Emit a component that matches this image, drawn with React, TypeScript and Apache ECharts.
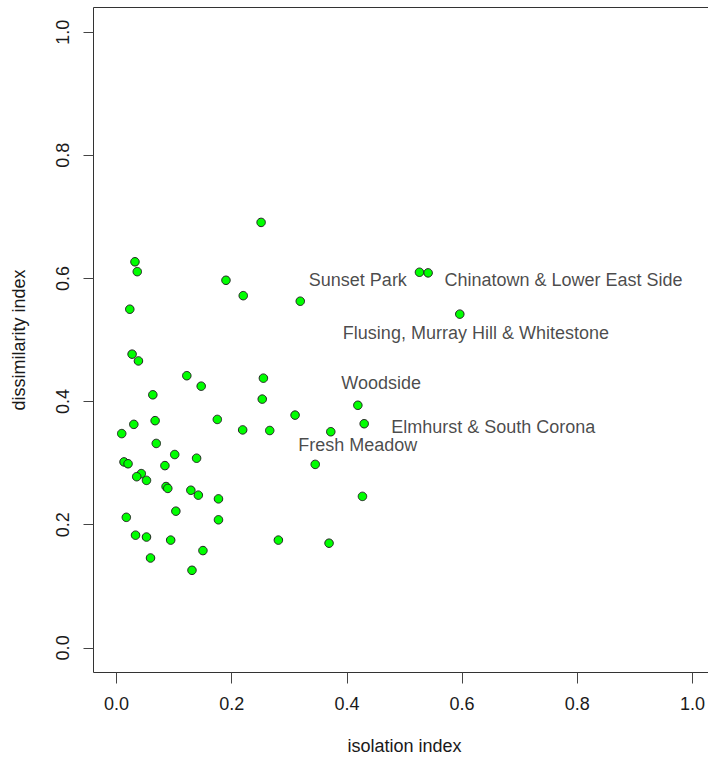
import React, { useEffect, useRef } from "react";
import * as echarts from "echarts";

// isolation index (x) and dissimilarity index (y) per neighbourhood
const isolation = [
  0.251, 0.032, 0.036, 0.19, 0.22, 0.319, 0.023, 0.027, 0.038, 0.122,
  0.147, 0.255, 0.063, 0.253, 0.31, 0.067, 0.03, 0.175, 0.009, 0.219,
  0.266, 0.069, 0.101, 0.139, 0.013, 0.02, 0.084, 0.043, 0.035, 0.052,
  0.086, 0.089, 0.129, 0.142, 0.177, 0.103, 0.017, 0.177, 0.033, 0.052,
  0.094, 0.281, 0.15, 0.059, 0.131, 0.369, 0.427, 0.345, 0.372, 0.43,
  0.419, 0.526, 0.541, 0.596,
];
const dissimilarity = [
  0.691, 0.627, 0.611, 0.597, 0.572, 0.563, 0.55, 0.477, 0.466, 0.442,
  0.425, 0.438, 0.411, 0.404, 0.378, 0.369, 0.363, 0.371, 0.348, 0.354,
  0.353, 0.332, 0.314, 0.308, 0.302, 0.299, 0.296, 0.283, 0.278, 0.272,
  0.262, 0.259, 0.256, 0.248, 0.242, 0.222, 0.212, 0.208, 0.183, 0.18,
  0.175, 0.175, 0.158, 0.146, 0.126, 0.17, 0.246, 0.298, 0.351, 0.364,
  0.394, 0.61, 0.609, 0.542,
];

// annotation texts and the data coordinates of their centres
const labelNames = [
  "Sunset Park",
  "Chinatown & Lower East Side",
  "Flusing, Murray Hill & Whitestone",
  "Woodside",
  "Elmhurst & South Corona",
  "Fresh Meadow",
];
const labelX = [0.419, 0.776, 0.624, 0.4595, 0.654, 0.419];
const labelY = [0.598, 0.598, 0.511, 0.43, 0.359, 0.3295];

// tick values (both axes) and axis ranges (R's 4% extension)
const xTicks = [0, 0.2, 0.4, 0.6, 0.8, 1.0];
const yTicks = [0, 0.2, 0.4, 0.6, 0.8, 1.0];
const xRange = [-0.04, 1.04];
const yRange = [-0.04, 1.04];

export default function App() {
  const ref = useRef<HTMLDivElement>(null);

  useEffect(() => {
    const chart = echarts.init(ref.current!, null, { renderer: "svg" });
    const font = "'Liberation Sans', Arial, Helvetica, sans-serif";
    const txt = "#1a1a1a";

    chart.setOption({
      animation: false,
      textStyle: { fontFamily: font },
      grid: {
        left: 93.5,
        top: 7.5,
        width: 622,
        height: 665,
        containLabel: false,
        outerBoundsMode: "none",
        show: true,
        borderColor: "#333",
        borderWidth: 1,
        backgroundColor: "transparent",
      },
      xAxis: {
        type: "value",
        min: xRange[0],
        max: xRange[1],
        axisLine: { show: false, onZero: false },
        splitLine: { show: false },
        axisTick: {
          show: true,
          inside: false,
          length: 11,
          customValues: xTicks,
          lineStyle: { color: "#444", width: 1 },
        },
        axisLabel: {
          margin: 22,
          fontSize: 18,
          color: txt,
          fontFamily: font,
          customValues: xTicks,
          formatter: (v: number) => v.toFixed(1),
        },
        name: "isolation index",
        nameLocation: "middle",
        nameGap: 64,
        nameTextStyle: { fontSize: 18, color: txt, fontFamily: font },
      },
      yAxis: {
        type: "value",
        min: yRange[0],
        max: yRange[1],
        axisLine: { show: false, onZero: false },
        splitLine: { show: false },
        axisTick: {
          show: true,
          inside: false,
          length: 10,
          customValues: yTicks,
          lineStyle: { color: "#444", width: 1 },
        },
        axisLabel: {
          margin: 22,
          rotate: 90,
          fontSize: 18,
          color: txt,
          fontFamily: font,
          customValues: yTicks,
          formatter: (v: number) => v.toFixed(1),
        },
        name: "dissimilarity index",
        nameLocation: "middle",
        nameGap: 66,
        nameTextStyle: { fontSize: 18, color: txt, fontFamily: font },
      },
      series: [
        {
          type: "scatter",
          symbol: "circle",
          symbolSize: 8.5,
          data: isolation.map((x, i) => [x, dissimilarity[i]]),
          itemStyle: { color: "#00ff00", borderColor: "#222", borderWidth: 1, opacity: 1 },
          emphasis: { disabled: true },
          z: 3,
        },
        {
          type: "scatter",
          symbolSize: 1,
          silent: true,
          data: labelNames.map((n, i) => ({ value: [labelX[i], labelY[i]], name: n })),
          itemStyle: { color: "rgba(0,0,0,0)" },
          label: {
            show: true,
            position: "inside",
            formatter: (p: any) => p.name,
            fontSize: 18,
            color: txt,
            fontFamily: font,
          },
          z: 4,
        },
      ],
    });

    return () => chart.dispose();
  }, []);

  return (
    <div
      ref={ref}
      style={{ position: "absolute", left: 0, top: 0, width: 708, height: 762, background: "#fff" }}
    />
  );
}
